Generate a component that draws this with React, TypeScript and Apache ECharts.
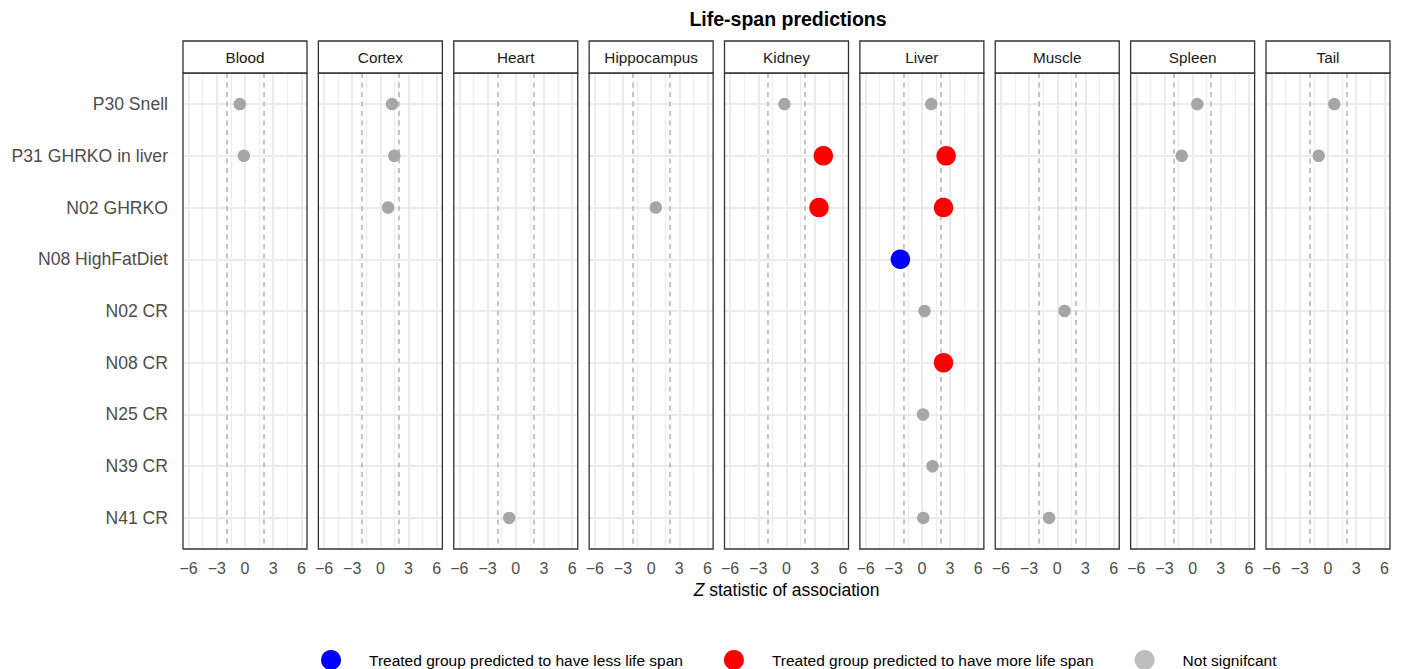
import React, { useEffect, useRef } from "react";
import * as echarts from "echarts";

const tissues = ["Blood", "Cortex", "Heart", "Hippocampus", "Kidney", "Liver", "Muscle", "Spleen", "Tail"];
const categories = [
  "P30 Snell",
  "P31 GHRKO in liver",
  "N02 GHRKO",
  "N08 HighFatDiet",
  "N02 CR",
  "N08 CR",
  "N25 CR",
  "N39 CR",
  "N41 CR",
];
const xTicks = [-6, -3, 0, 3, 6];
const xMinor = [-4.5, -1.5, 1.5, 4.5];
const threshold = 1.96;

// z statistic per tissue, in the order of categories (null = not measured)
const bloodZ = [-0.55, -0.12, null, null, null, null, null, null, null];
const cortexZ = [1.24, 1.48, 0.82, null, null, null, null, null, null];
const heartZ = [null, null, null, null, null, null, null, null, -0.7];
const hippocampusZ = [null, null, 0.5, null, null, null, null, null, null];
const kidneyZ = [-0.22, 3.92, 3.46, null, null, null, null, null, null];
const liverZ = [1.0, 2.58, 2.3, -2.29, 0.28, 2.3, 0.12, 1.13, 0.15];
const muscleZ = [null, null, null, null, 0.78, null, null, null, -0.87];
const spleenZ = [0.5, -1.16, null, null, null, null, null, null, null];
const tailZ = [0.67, -0.99, null, null, null, null, null, null, null];

const zByTissue = [bloodZ, cortexZ, heartZ, hippocampusZ, kidneyZ, liverZ, muscleZ, spleenZ, tailZ];

const LESS = "Treated group predicted to have less life span";
const MORE = "Treated group predicted to have more life span";
const NS = "Not signifcant";

const FONT = "'Liberation Sans', Arial, Helvetica, sans-serif";

export default function App() {
  const ref = useRef<HTMLDivElement>(null);

  useEffect(() => {
    if (!ref.current) return;
    const chart = echarts.init(ref.current, undefined, { renderer: "svg" });

    const panelLeft0 = 183;
    const panelStep = 135.375;
    const panelW = 124;
    const panelTop = 73;
    const panelH = 476;
    const stripTop = 41;
    const stripH = 32;

    const grids: any[] = [];
    const xAxes: any[] = [];
    const yAxes: any[] = [];
    const series: any[] = [];
    const graphics: any[] = [];

    tissues.forEach((t, i) => {
      const left = panelLeft0 + i * panelStep;
      grids.push({
        left,
        top: panelTop,
        width: panelW,
        height: panelH,
        show: true,
        backgroundColor: "#FFFFFF",
        borderWidth: 0,
        containLabel: false,
      });
      const isMid = i === 4;
      xAxes.push({
        type: "value",
        gridIndex: i,
        min: -6.6,
        max: 6.6,
        axisLine: { show: false },
        splitLine: { show: false },
        axisTick: {
          show: true,
          customValues: xTicks,
          length: 4,
          lineStyle: { color: "#333333", width: 1.1 },
        },
        axisLabel: {
          show: true,
          customValues: xTicks,
          margin: 11,
          color: "#4D4D4D",
          fontSize: 16,
          fontFamily: FONT,
          formatter: (v: number) => String(v).replace("-", "\u2212"),
        },
        name: isMid ? "{i|Z} statistic of association" : "",
        nameLocation: "middle",
        nameGap: 32,
        nameTextStyle: {
          color: "#000000",
          fontSize: 17.5,
          fontFamily: FONT,
          rich: {
            i: { fontStyle: "italic", fontSize: 17.5, fontFamily: FONT, color: "#000000" },
          },
        },
      });
      const first = i === 0;
      yAxes.push({
        type: "value",
        gridIndex: i,
        inverse: true,
        min: -0.6,
        max: 8.6,
        axisLine: { show: false },
        splitLine: { show: false },
        axisTick: {
          show: first,
          customValues: categories.map((_, k) => k),
          length: 4,
          lineStyle: { color: "#333333", width: 1.1 },
        },
        axisLabel: {
          show: first,
          customValues: categories.map((_, k) => k),
          margin: 15,
          color: "#4D4D4D",
          fontSize: 17.6,
          fontFamily: FONT,
          formatter: (v: number) => categories[Math.round(v)] ?? "",
        },
      });

      // gridlines
      series.push({
        type: "scatter",
        xAxisIndex: i,
        yAxisIndex: i,
        data: [],
        silent: true,
        z: 1,
        markLine: {
          silent: true,
          z: 1,
          symbol: ["none", "none"],
          animation: false,
          label: { show: false },
          lineStyle: { color: "#EBEBEB", type: "solid", width: 1.8 },
          data: [
            ...xTicks.map((v) => ({ xAxis: v, lineStyle: { color: "#EBEBEB", width: 2, type: "solid" } })),
            ...xMinor.map((v) => ({ xAxis: v, lineStyle: { color: "#EEEEEE", width: 1.4, type: "solid" } })),
            ...categories.map((_, k) => ({ yAxis: k, lineStyle: { color: "#EBEBEB", width: 2, type: "solid" } })),
          ],
        },
      });
      // significance thresholds
      series.push({
        type: "scatter",
        xAxisIndex: i,
        yAxisIndex: i,
        data: [],
        silent: true,
        z: 2,
        markLine: {
          silent: true,
          z: 2,
          symbol: ["none", "none"],
          animation: false,
          label: { show: false },
          lineStyle: { color: "#BEBEBE", type: [5, 4.5], width: 1.8 },
          data: [{ xAxis: -threshold }, { xAxis: threshold }],
        },
      });

      const pts = zByTissue[i]
        .map((v, k) => (v == null ? null : [v, k]))
        .filter((p) => p !== null) as number[][];
      const ns = pts.filter((p) => Math.abs(p[0]) <= threshold);
      const more = pts.filter((p) => p[0] > threshold);
      const less = pts.filter((p) => p[0] < -threshold);

      series.push({
        name: LESS,
        type: "scatter",
        xAxisIndex: i,
        yAxisIndex: i,
        z: 10,
        symbol: "circle",
        symbolSize: 19.5,
        itemStyle: { color: "#0000FF", opacity: 1 },
        data: less,
      });
      series.push({
        name: MORE,
        type: "scatter",
        xAxisIndex: i,
        yAxisIndex: i,
        z: 10,
        symbol: "circle",
        symbolSize: 19.5,
        itemStyle: { color: "#FF0000", opacity: 1 },
        data: more,
      });
      series.push({
        name: NS,
        type: "scatter",
        xAxisIndex: i,
        yAxisIndex: i,
        z: 10,
        symbol: "circle",
        symbolSize: 12.5,
        itemStyle: { color: "#A6A6A6", opacity: 1 },
        data: ns,
      });

      // panel border (on top)
      graphics.push({
        type: "rect",
        silent: true,
        z: 100,
        shape: { x: left, y: panelTop, width: panelW, height: panelH },
        style: { fill: "none", stroke: "#333333", lineWidth: 1.3 },
      });
      // strip
      graphics.push({
        type: "rect",
        silent: true,
        z: 100,
        shape: { x: left, y: stripTop, width: panelW, height: stripH },
        style: { fill: "#FFFFFF", stroke: "#333333", lineWidth: 1.3 },
      });
      graphics.push({
        type: "text",
        silent: true,
        z: 101,
        x: left + panelW / 2,
        y: stripTop + stripH / 2,
        style: {
          text: t,
          fill: "#1A1A1A",
          fontSize: 15.3,
          fontFamily: FONT,
          align: "center",
          verticalAlign: "middle",
        },
      });
    });

    // title
    graphics.push({
      type: "text",
      silent: true,
      z: 101,
      x: 788,
      y: 19,
      style: {
        text: "Life-span predictions",
        fill: "#000000",
        fontSize: 19.5,
        fontWeight: "bold",
        fontFamily: FONT,
        align: "center",
        verticalAlign: "middle",
      },
    });

    chart.setOption({
      animation: false,
      textStyle: { fontFamily: FONT },
      grid: grids,
      xAxis: xAxes,
      yAxis: yAxes,
      series,
      graphic: graphics,
      legend: {
        show: true,
        selectedMode: false,
        left: 321,
        top: 650,
        padding: 0,
        icon: "circle",
        itemWidth: 20,
        itemHeight: 20,
        itemGap: 41,
        formatter: (n: string) => `{g|}{t|${n}}`,
        textStyle: {
          color: "#000000",
          fontSize: 15.5,
          fontFamily: FONT,
          rich: {
            g: { width: 23, height: 18 },
            t: { fontSize: 15.5, fontFamily: FONT, color: "#000000", height: 18 },
          },
        },
        data: [
          { name: LESS, itemStyle: { color: "#0000FF" } },
          { name: MORE, itemStyle: { color: "#FF0000" } },
          { name: NS, itemStyle: { color: "#BEBEBE" } },
        ],
      },
    });

    return () => chart.dispose();
  }, []);

  return (
    <div
      ref={ref}
      style={{ position: "absolute", left: 0, top: 0, width: 1401, height: 669, background: "#FFFFFF" }}
    />
  );
}
